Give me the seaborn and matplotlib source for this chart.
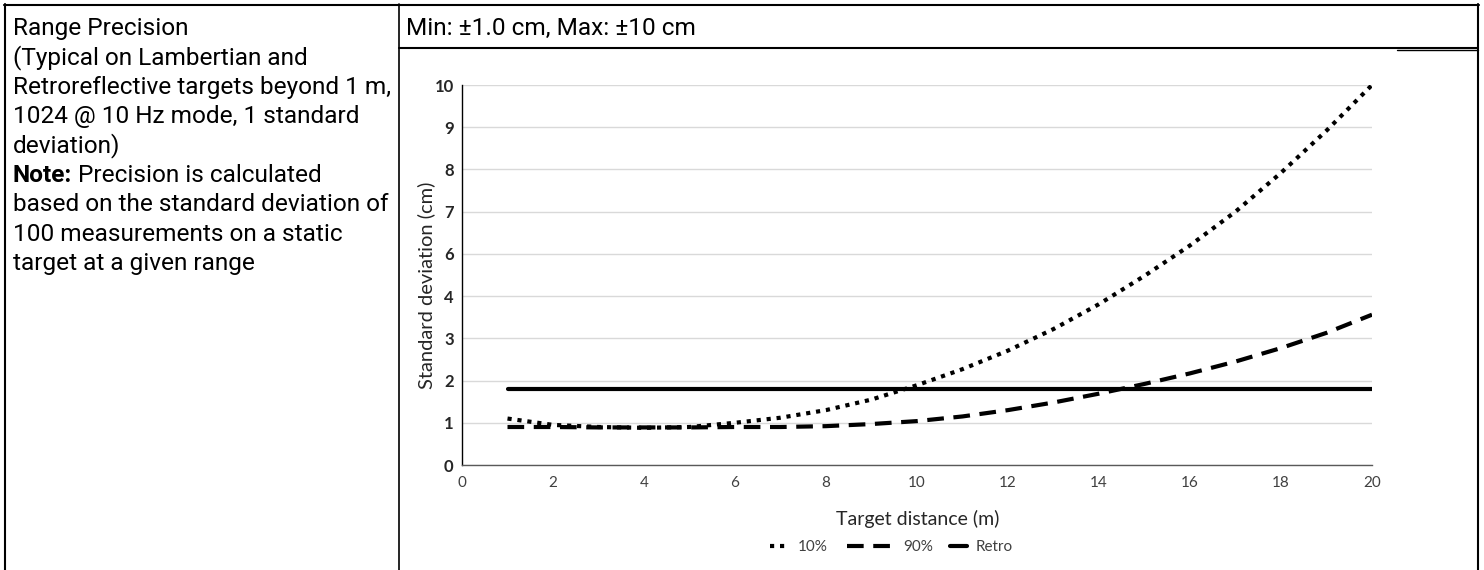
import matplotlib.pyplot as plt
from matplotlib.lines import Line2D
import seaborn as sns
import pandas as pd

# values, in grid units (the y axis skips the label "5")
distance_m = [1, 2, 3, 4, 5, 6, 7, 8, 9, 10, 11, 12, 13, 14, 15, 16, 17, 18, 19, 20]
std_10 = [1.10, 0.95, 0.90, 0.88, 0.90, 1.00, 1.12, 1.30, 1.55, 1.89,
          2.27, 2.71, 3.22, 3.81, 4.48, 5.20, 6.00, 6.92, 7.92, 9.00]
std_90 = [0.90, 0.90, 0.89, 0.89, 0.89, 0.90, 0.90, 0.92, 0.97, 1.04,
          1.15, 1.30, 1.48, 1.69, 1.92, 2.17, 2.45, 2.77, 3.13, 3.56]
std_retro = [1.8, 1.8, 1.8, 1.8, 1.8, 1.8, 1.8, 1.8, 1.8, 1.8,
             1.8, 1.8, 1.8, 1.8, 1.8, 1.8, 1.8, 1.8, 1.8, 1.8]
series_names = ['10%', '90%', 'Retro']
x_ticks = [0, 2, 4, 6, 8, 10, 12, 14, 16, 18, 20]
y_tick_labels = ['0', '1', '2', '3', '4', '6', '7', '8', '9', '10']

header_text = 'Min: ±1.0 cm, Max: ±10 cm'
left_lines = [
    'Range Precision',
    '(Typical on Lambertian and',
    'Retroreflective targets beyond 1 m,',
    '1024 @ 10 Hz mode, 1 standard',
    'deviation)',
    None,  # the "Note:" line, drawn in two parts
    'based on the standard deviation of',
    '100 measurements on a static',
    'target at a given range',
]

sns.set_theme(style='white')
plt.rcParams['font.family'] = ['Lato', 'DejaVu Sans']

W, H = 1484, 570
fig = plt.figure(figsize=(W / 100, H / 100), dpi=100)
ax = fig.add_axes([462 / W, 1 - 465 / H, 910 / W, 380 / H])

df = pd.DataFrame({
    'distance': distance_m * 3,
    'std': std_10 + std_90 + std_retro,
    'series': [series_names[0]] * len(distance_m) + [series_names[1]] * len(distance_m)
              + [series_names[2]] * len(distance_m),
})
dash_map = {'10%': (1, 1.4), '90%': (4, 2.3), 'Retro': ''}
sns.lineplot(data=df, x='distance', y='std', style='series', dashes=dash_map,
             color='black', lw=3, legend=False, ax=ax)

ax.set_xlim(0, 20)
ax.set_ylim(0, 9)
ax.set_xticks(x_ticks)
ax.set_xticklabels([str(t) for t in x_ticks], fontsize=11, color='#404040')
ax.set_yticks(range(len(y_tick_labels)))
ax.set_yticklabels(y_tick_labels, fontsize=12, fontweight='bold', color='#262626')
ax.tick_params(axis='x', length=0, pad=8)
ax.tick_params(axis='y', length=0, pad=6)
ax.grid(axis='y', color='#d9d9d9', lw=1)
ax.set_axisbelow(True)
for s in ['top', 'right']:
    ax.spines[s].set_visible(False)
ax.spines['left'].set_color('black')
ax.spines['left'].set_linewidth(1)
ax.spines['bottom'].set_color('#595959')
ax.spines['bottom'].set_linewidth(1)

ax.set_xlabel('Target distance (m)', fontsize=14, color='#262626')
ax.set_ylabel('Standard deviation (cm)', fontsize=14.5, color='#262626')
ax.xaxis.set_label_coords(0.501, -0.118)
ax.yaxis.set_label_coords(-0.029, 0.474)

# legend, one entry at a time so each swatch keeps its own length
legend_specs = [('10%', (1, 1.4), 1.25, 770), ('90%', (4, 2.3), 3.1, 847), ('Retro', '', 1.1, 950)]
for name, dsh, hl, x0 in legend_specs:
    h = Line2D([], [], color='black', lw=3)
    if dsh:
        h.set_dashes(dsh)
    fig.legend(handles=[h], labels=[name], loc='center left',
               bbox_to_anchor=(x0 / W, 1 - 547 / H), frameon=False, handlelength=hl,
               handletextpad=0.6, borderpad=0, borderaxespad=0,
               prop={'family': 'Lato', 'size': 11}, labelcolor='#404040')

# left cell text
fs = 17.6
step = 29.4
y0 = 35
for i, line in enumerate(left_lines):
    y = 1 - (y0 + i * step) / H
    if line is None:
        t = fig.text(13 / W, y, 'Note:', fontsize=fs, family='Roboto', fontweight='bold',
                     va='baseline', color='black')
        fig.canvas.draw()
        bb = t.get_window_extent()
        fig.text(bb.x1 / W, y, ' Precision is calculated', fontsize=fs, family='Roboto',
                 va='baseline', color='black')
    else:
        fig.text(13 / W, y, line, fontsize=fs, family='Roboto', va='baseline', color='black')

fig.text(406 / W, 1 - y0 / H, header_text, fontsize=fs, family='Roboto', va='baseline',
         color='black')

# table borders
def hline(y, x1, x2, lw):
    fig.add_artist(Line2D([x1 / W, x2 / W], [1 - y / H, 1 - y / H], color='black', lw=lw))

def vline(x, y1, y2, lw):
    fig.add_artist(Line2D([x / W, x / W], [1 - y1 / H, 1 - y2 / H], color='black', lw=lw))

hline(5, 4, 1479, 1.5)
vline(5, 4, 570, 1.5)
vline(1478, 4, 570, 1.5)
vline(399, 4, 570, 1.2)
hline(48, 399, 1478, 1.5)
hline(49.5, 1397, 1478, 1)

fig.savefig('out.png', dpi=100)
